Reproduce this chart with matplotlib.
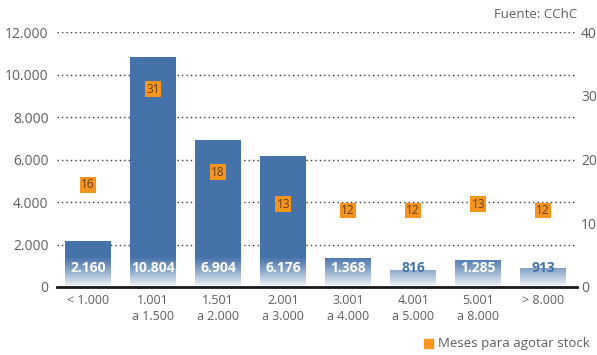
import numpy as np
import matplotlib
matplotlib.use("Agg")
import matplotlib.pyplot as plt

plt.rcParams['font.family'] = ['Open Sans', 'DejaVu Sans']

categories = ["< 1.000", "1.001\na 1.500", "1.501\na 2.000", "2.001\na 3.000",
              "3.001\na 4.000", "4.001\na 5.000", "5.001\na 8.000", "> 8.000"]
stock = [2160, 10804, 6904, 6176, 1368, 816, 1285, 913]
meses = [16, 31, 18, 13, 12, 12, 13, 12]
left_ticks = [0, 2000, 4000, 6000, 8000, 10000, 12000]
right_ticks = [0, 10, 20, 30, 40]

BLUE = "#4672aa"
ORANGE = "#f7941d"
GRAY = "#5f5f5f"

def fmt(v):
    return f"{v:,}".replace(",", ".")

fig = plt.figure(figsize=(5.97, 3.55), dpi=100)
ax = fig.add_axes([57 / 597, 1 - 287 / 355, 520 / 597, 255 / 355])
ax2 = ax.twinx()

x = np.arange(len(categories))
width = 0.71
ax.bar(x, stock, width=width, color=BLUE, zorder=2)

# white fade over the lower part of each bar
fade_top = 1450
grad = np.zeros((100, 1, 4))
grad[..., :3] = 1.0
grad[:, 0, 3] = np.linspace(0.97, 0.0, 100) ** 1.2
for xi, h in zip(x, stock):
    top = min(h, fade_top)
    n = max(2, int(100 * top / fade_top))
    ax.imshow(grad[:n], origin="lower", aspect="auto",
              extent=[xi - width / 2, xi + width / 2, 0, top], zorder=3,
              interpolation="bilinear")

for xi, h in zip(x, stock):
    short = h < 1000
    ax.text(xi, 900, fmt(h), ha="center", va="center", fontsize=10,
            fontweight="bold", color=BLUE if short else "white", zorder=5)

ax.set_xlim(-0.48, len(categories) - 0.48)
ax.set_ylim(0, 12000)
ax.set_yticks(left_ticks)
ax.set_yticklabels([fmt(v) for v in left_ticks])
ax.yaxis.grid(True, linestyle=(0, (1, 2.2)), color="#3a3a3a", linewidth=1.0)
ax.set_axisbelow(True)
ax.tick_params(axis="y", length=0, labelsize=10, labelcolor=GRAY, pad=6)
ax.set_xticks(x)
ax.set_xticklabels(categories, fontsize=9, color=GRAY, linespacing=1.35)
ax.tick_params(axis="x", length=0, pad=5)
for s in ["top", "left", "right"]:
    ax.spines[s].set_visible(False)
ax.spines["bottom"].set_color("#1a1a1a")
ax.spines["bottom"].set_linewidth(2)
ax.spines["bottom"].set_zorder(6)

ax2.set_ylim(0, 40)
ax2.set_yticks(right_ticks)
ax2.tick_params(axis="y", length=0, labelsize=10, labelcolor=GRAY, pad=3)
for s in ax2.spines.values():
    s.set_visible(False)
for xi, m in zip(x, meses):
    ax2.text(xi, m, str(m), ha="center", va="center", fontsize=8.5, color="#5e4122",
             bbox=dict(boxstyle="square,pad=0.12", fc=ORANGE, ec="none"), zorder=6)

fig.text(577 / 597, 1 - 14 / 355, "Fuente: CChC", ha="right", va="center",
         fontsize=9.5, color=GRAY)
fig.patches.append(plt.Rectangle((424 / 597, 1 - 348 / 355), 9 / 597, 9 / 355,
                                 transform=fig.transFigure, color=ORANGE))
fig.text(438 / 597, 1 - 343.5 / 355, "Meses para agotar stock", ha="left", va="center",
         fontsize=9.5, color=GRAY)

fig.savefig("out.png", dpi=100)
